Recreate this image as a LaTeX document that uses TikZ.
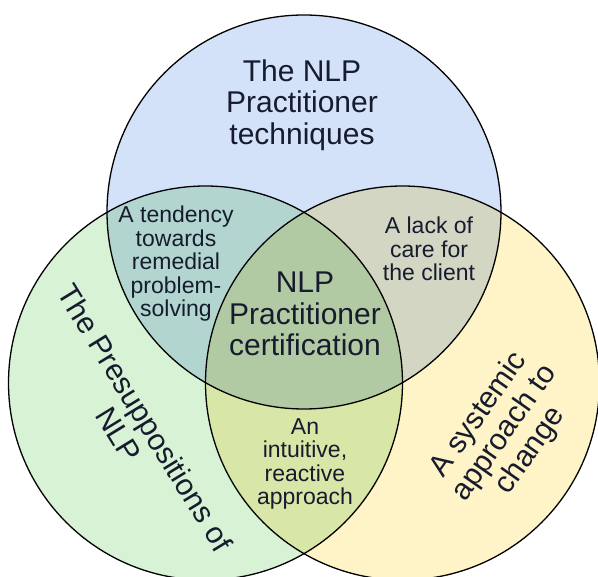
\documentclass[tikz,border=0pt]{standalone}
\usepackage{fontspec}
\setmainfont{Liberation Sans}
\usetikzlibrary{positioning}
\definecolor{techblue}{RGB}{211,225,249}
\definecolor{presgreen}{RGB}{216,242,214}
\definecolor{systyellow}{RGB}{255,243,200}
\definecolor{labelink}{RGB}{22,28,46}
\tikzstyle{circleset} = [circle, draw=black, line width=1.3pt,
    minimum size=394pt, inner sep=0pt]
\tikzstyle{bigtext} = [text=labelink, align=center,
    font=\fontsize{30}{31.5}\selectfont]
\tikzstyle{smalltext} = [text=labelink, align=center,
    font=\fontsize{23}{23.5}\selectfont]

\begin{document}
\begin{tikzpicture}[x=1pt,y=-1pt]
  \useasboundingbox (0,0) rectangle (598,577);
  \clip (0,0) rectangle (598,577);
  \begin{scope}[blend group=multiply]
    \node[circleset,fill=techblue]   (techset) at (304,212)   {};
    \node[circleset,fill=presgreen]  (presset) at (205.5,383) {};
    \node[circleset,fill=systyellow] (systset) at (402.5,383) {};
  \end{scope}

  \node[bigtext]   (techniques)      at (302,105) {The NLP\\Practitioner\\techniques};
  \node[bigtext]   (certification)   at (305,314) {NLP\\Practitioner\\certification};
  \node[bigtext,rotate=-58.5] (presuppositions) at (132,426) {The Presuppositions of\\NLP};
  \node[bigtext,rotate=55]    (systemic)        at (505,433) {A systemic\\approach to\\change};
  \node[smalltext] (tendency)  at (176,264) {A tendency\\towards\\remedial\\problem-\\solving};
  \node[smalltext] (lackofcare) at (429,249) {A lack of\\care for\\the client};
  \node[smalltext] (intuitive) at (305,464) {An\\intuitive,\\reactive\\approach};
\end{tikzpicture}
\end{document}
